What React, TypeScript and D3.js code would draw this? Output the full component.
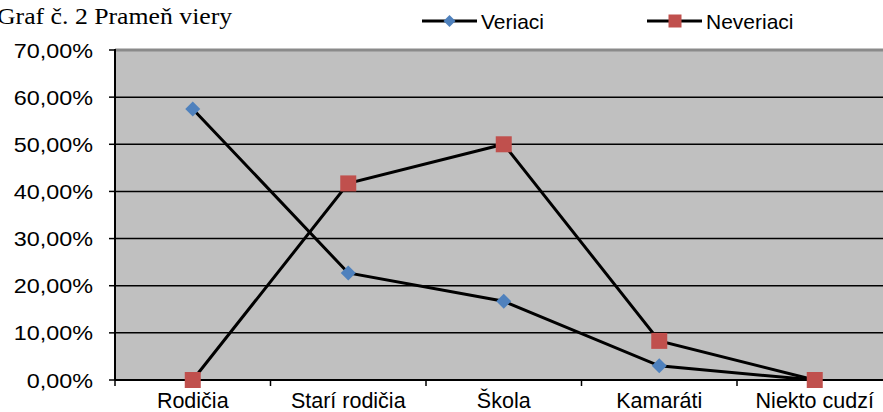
import React from "react";
import * as d3 from "d3";

const categories = ["Rodičia", "Starí rodičia", "Škola", "Kamaráti", "Niekto cudzí"];
const veriaci = [57.5, 22.7, 16.7, 3.0, 0];
const neveriaci = [0, 41.7, 50.0, 8.3, 0];
const yTicks = [0, 10, 20, 30, 40, 50, 60, 70];
const title = "Graf č. 2 Prameň viery";
const seriesNames = ["Veriaci", "Neveriaci"];

const W = 883, H = 412;
const left = 115, top = 50, bottom = 380;
const bandW = 155.5;

export default function App() {
  const x = d3.scaleBand<string>().domain(categories).range([left, left + bandW * categories.length]);
  const y = d3.scaleLinear().domain([0, 70]).range([bottom, top]);
  const cx = (c: string) => (x(c) as number) + x.bandwidth() / 2;
  const line = d3.line<[string, number]>().x(d => cx(d[0])).y(d => y(d[1]));
  const vData = categories.map((c, i) => [c, veriaci[i]] as [string, number]);
  const nData = categories.map((c, i) => [c, neveriaci[i]] as [string, number]);
  const fmt = (v: number) => v.toFixed(2).replace(".", ",") + "%";
  const font = "Liberation Sans, Arial, sans-serif";
  const diamond = (px: number, py: number, r: number) =>
    `M${px},${py - r}L${px + r},${py}L${px},${py + r}L${px - r},${py}Z`;
  const blue = "#4F81BD", red = "#C0504D";
  const ticksX = d3.range(categories.length + 1).map(i => left + i * bandW);

  return (
    <svg width={W} height={H} style={{ position: "absolute", left: 0, top: 0, background: "#fff" }}>
      <rect x={left} y={top} width={W - left} height={bottom - top} fill="#C0C0C0" />
      {yTicks.filter(t => t > 0 && t < 70).map(t => (
        <line key={t} x1={left} x2={W} y1={y(t)} y2={y(t)} stroke="#000" strokeWidth={1.5} />
      ))}
      <line x1={left} x2={W} y1={y(70)} y2={y(70)} stroke="#8a8a8a" strokeWidth={3} />
      <line x1={left} x2={left} y1={top - 1} y2={bottom} stroke="#000" strokeWidth={2} />
      <line x1={left} x2={W} y1={bottom} y2={bottom} stroke="#000" strokeWidth={2} />
      {yTicks.map(t => (
        <g key={t}>
          <line x1={left - 6} x2={left} y1={y(t)} y2={y(t)} stroke="#000" strokeWidth={1.5} />
          <g transform={`translate(93,${y(t) + 7.5}) scale(1.14,1)`}>
            <text x={0} y={0} textAnchor="end" fontFamily={font} fontSize={20.5}>{fmt(t)}</text>
          </g>
        </g>
      ))}
      {ticksX.map((tx, i) => (
        <line key={i} x1={tx} x2={tx} y1={bottom} y2={bottom + 6} stroke="#000" strokeWidth={1.5} />
      ))}
      {categories.map(c => (
        <text key={c} x={cx(c)} y={bottom + 28} textAnchor="middle" fontFamily={font} fontSize={21.5}>{c}</text>
      ))}
      <path d={line(vData) || ""} fill="none" stroke="#000" strokeWidth={3} />
      <path d={line(nData) || ""} fill="none" stroke="#000" strokeWidth={3} />
      {vData.map(d => (
        <path key={"v" + d[0]} d={diamond(cx(d[0]), y(d[1]), 7.5)} fill={blue} />
      ))}
      {nData.map(d => (
        <rect key={"n" + d[0]} x={cx(d[0]) - 8} y={y(d[1]) - 8} width={16} height={16} fill={red} />
      ))}
      <g transform="translate(-3,24) scale(1.12,1)">
        <text x={0} y={0} fontFamily="Liberation Serif, Times New Roman, serif" fontSize={23}>{title}</text>
      </g>
      <g>
        <line x1={422} x2={477} y1={21} y2={21} stroke="#000" strokeWidth={3} />
        <path d={diamond(449.5, 21, 6)} fill={blue} />
        <text x={481} y={29} fontFamily={font} fontSize={21}>{seriesNames[0]}</text>
        <line x1={647} x2={702} y1={21} y2={21} stroke="#000" strokeWidth={3} />
        <rect x={668.5} y={14.5} width={13} height={13} fill={red} />
        <text x={706} y={29} fontFamily={font} fontSize={21}>{seriesNames[1]}</text>
      </g>
    </svg>
  );
}
